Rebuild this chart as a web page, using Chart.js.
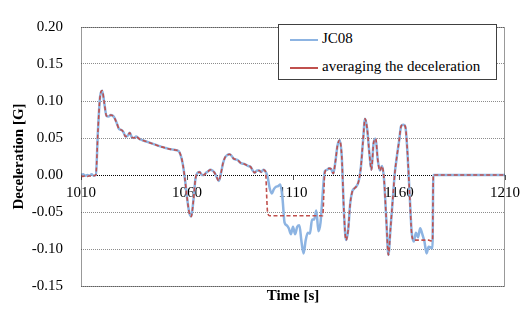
<!DOCTYPE html>
<html><head><meta charset="utf-8">
<script src="https://cdn.jsdelivr.net/npm/chart.js@4"></script>
<style>
html,body{margin:0;padding:0;background:#fff;}
#wrap{position:relative;width:524px;height:313px;}
canvas{display:block}
#legend{position:absolute;left:278px;top:24px;width:217px;height:54px;border:1px solid #404040;background:#fff;font-family:'Times New Roman','Liberation Serif','DejaVu Serif',serif;font-size:15px;color:#000;}
.row{position:absolute;left:11px;height:16px;line-height:16px;white-space:nowrap}
.sw{display:inline-block;width:28px;vertical-align:middle;margin-right:4px;}
</style></head>
<body>
<div id="wrap">
<canvas id="c" width="524" height="313"></canvas>
<div id="legend">
  <div class="row" style="top:5px"><span class="sw" style="border-top:2.5px solid #8db4e2"></span>JC08</div>
  <div class="row" style="top:33px"><span class="sw" style="border-top:2px solid #c0504d"></span>averaging the deceleration</div>
</div>
</div>
<script>
const time = [
1010,1011,1012,1013,1014,1015,1016,1017,1018,1019,
1020,1021,1022,1023,1024,1025,1026,1027,1028,1029,
1030,1031,1032,1033,1034,1035,1036,1037,1038,1040,
1042,1044,1046,1048,1050,1052,1054,1056,1057,1058,
1059,1060,1061,1062,1063,1064,1065,1066,1067,1068,
1069,1070,1071,1072,1073,1074,1075,1076,1077,1078,
1079,1080,1081,1082,1083,1084,1085,1086,1087,1088,
1089,1090,1091,1092,1093,1094,1095,1096,1097,1098,
1099,1100,1101,1102,1103,1104,1105,1106,1107,1108,
1109,1110,1111,1112,1113,1114,1115,1116,1117,1118,
1119,1120,1121,1122,1123,1124,1125,1126,1127,1128,
1129,1130,1131,1132,1133,1134,1135,1136,1137,1138,
1139,1140,1141,1142,1143,1144,1145,1146,1147,1148,
1149,1150,1151,1152,1153,1154,1155,1156,1157,1158,
1159,1160,1161,1162,1163,1164,1165,1166,1167,1168,
1169,1170,1171,1172,1173,1174,1175,1175.8,1176.2,1210
];
const jc08 = [
0.000,0.001,-0.001,0.000,-0.001,0.001,-0.001,0.000,0.060,0.106,
0.114,0.097,0.080,0.079,0.081,0.080,0.076,0.069,0.062,0.061,
0.058,0.052,0.053,0.057,0.051,0.050,0.052,0.050,0.048,0.046,
0.044,0.042,0.040,0.038,0.0365,0.035,0.034,0.0325,0.027,0.015,
-0.005,-0.030,-0.050,-0.056,-0.035,-0.005,0.003,0.004,0.000,0.000,
0.003,0.005,0.007,0.006,0.003,-0.003,-0.008,0.002,0.016,0.024,
0.027,0.028,0.026,0.022,0.021,0.020,0.017,0.0155,0.015,0.0135,
0.012,0.011,0.006,0.003,0.006,0.006,0.004,0.007,0.005,-0.002,
-0.018,-0.025,-0.019,-0.016,-0.015,-0.013,-0.030,-0.064,-0.068,-0.072,
-0.080,-0.070,-0.080,-0.070,-0.068,-0.090,-0.106,-0.088,-0.078,-0.079,
-0.060,-0.060,-0.048,-0.076,-0.064,-0.025,0.005,0.007,0.009,0.008,
0.002,0.018,0.040,0.047,0.025,-0.048,-0.088,-0.075,-0.038,-0.022,
-0.018,-0.015,-0.008,0.010,0.045,0.076,0.062,0.030,0.007,0.043,
0.049,0.020,0.006,0.012,-0.008,-0.060,-0.108,-0.072,-0.035,0.002,
0.025,0.045,0.066,0.068,0.065,0.030,-0.025,-0.078,-0.090,-0.078,
-0.084,-0.072,-0.080,-0.090,-0.106,-0.097,-0.098,-0.099,0.000,0.000
];
const avg = [
-0.001,-0.002,-0.001,-0.002,-0.001,-0.002,-0.001,0.000,0.060,0.106,
0.114,0.097,0.080,0.079,0.081,0.080,0.076,0.069,0.062,0.061,
0.058,0.052,0.053,0.057,0.051,0.050,0.052,0.050,0.048,0.046,
0.044,0.042,0.040,0.038,0.0365,0.035,0.034,0.0325,0.027,0.015,
-0.005,-0.030,-0.050,-0.056,-0.035,-0.005,0.003,0.004,0.000,0.000,
0.003,0.005,0.007,0.006,0.003,-0.003,-0.008,0.002,0.016,0.024,
0.027,0.028,0.026,0.022,0.021,0.020,0.017,0.0155,0.015,0.0135,
0.012,0.011,0.006,0.003,0.006,0.006,0.004,0.007,0.005,-0.050,
-0.055,-0.055,-0.055,-0.055,-0.055,-0.055,-0.055,-0.055,-0.055,-0.055,
-0.055,-0.055,-0.055,-0.055,-0.055,-0.055,-0.055,-0.055,-0.055,-0.055,
-0.055,-0.055,-0.055,-0.055,-0.055,-0.055,0.003,0.007,0.009,0.008,
0.002,0.018,0.040,0.047,0.025,-0.048,-0.088,-0.075,-0.038,-0.022,
-0.018,-0.015,-0.008,0.010,0.045,0.076,0.062,0.030,0.007,0.043,
0.049,0.020,0.006,0.012,-0.008,-0.060,-0.108,-0.072,-0.035,0.002,
0.025,0.045,0.066,0.068,0.065,0.030,-0.025,-0.080,-0.088,-0.088,
-0.088,-0.088,-0.088,-0.088,-0.088,-0.088,-0.089,-0.089,0.000,0.000
];
const xTicks = [1010,1060,1110,1160,1210];
const yTicks = [-0.15,-0.10,-0.05,0.00,0.05,0.10,0.15,0.20];
const serif = "'Times New Roman', 'Liberation Serif', 'DejaVu Serif', serif";

const framePlugin = {
  id:'frame',
  afterDraw(chart){
    const a = chart.chartArea, ctx = chart.ctx;
    ctx.save();
    ctx.strokeStyle = '#333';
    ctx.lineWidth = 1;
    ctx.setLineDash([1,1]);
    ctx.strokeRect(Math.round(a.left)+0.5, Math.round(a.top)+0.5, Math.round(a.right-a.left)-1, Math.round(a.bottom-a.top));
    ctx.restore();
  }
};

new Chart(document.getElementById('c'), {
  type:'line',
  data:{
    datasets:[
      {label:'averaging the deceleration', data: time.map((t,i)=>({x:t,y:avg[i]})), borderColor:'#c0504d', borderWidth:1.6, borderDash:[4,2.5], pointRadius:0, cubicInterpolationMode:'monotone', fill:false},
      {label:'JC08', data: time.map((t,i)=>({x:t,y:jc08[i]})), borderColor:'#8db4e2', borderWidth:2.5, pointRadius:0, cubicInterpolationMode:'monotone', fill:false}
    ]
  },
  options:{
    responsive:false, animation:false,
    layout:{padding:{top:18,right:18,left:0,bottom:0}},
    plugins:{legend:{display:false}, tooltip:{enabled:false}},
    scales:{
      x:{type:'linear', position:'bottom', min:1010, max:1210,
        ticks:{display:false}, grid:{display:false}, border:{display:false},
        afterFit:s=>{s.height=19.5;},
        title:{display:true, text:'Time [s]', color:'#000', font:{family:serif, size:15, weight:'bold'}, padding:{top:0,bottom:0}}
      },
      x2:{type:'linear', position:{y:0}, min:1010, max:1210,
        afterBuildTicks:s=>{s.ticks = xTicks.map(v=>({value:v}));},
        ticks:{color:'#000', font:{family:serif, size:15}, padding:4, maxRotation:0, autoSkip:false, callback:v=>String(v)},
        grid:{display:true, drawOnChartArea:false, drawTicks:true, tickLength:5, color:'#555'},
        border:{display:false}
      },
      y:{type:'linear', min:-0.15, max:0.20,
        afterBuildTicks:s=>{s.ticks = yTicks.map(v=>({value:v}));},
        afterFit:s=>{s.width=81;},
        ticks:{color:'#000', font:{family:serif, size:15}, padding:18, callback:v=>Math.abs(v)<1e-9?'0.00':Number(v).toFixed(2)},
        grid:{drawTicks:false, color:ctx=>(ctx.tick && Math.abs(ctx.tick.value)<1e-9)?'#000':'#8c8c8c', lineWidth:1},
        border:{display:false, dash:[1,1]},
        title:{display:true, text:'Deceleration [G]', color:'#000', font:{family:serif, size:15, weight:'bold'}, padding:{top:10,bottom:0}}
      }
    }
  },
  plugins:[framePlugin]
});
</script>
</body></html>
